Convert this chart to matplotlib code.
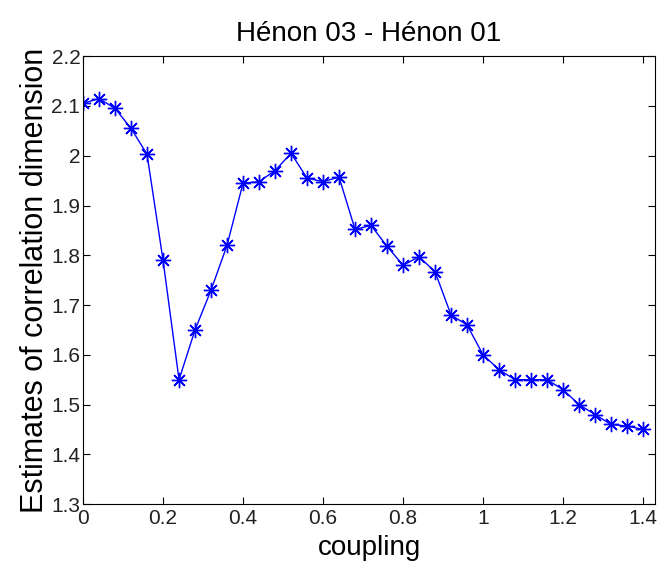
import matplotlib
matplotlib.use('Agg')
import matplotlib.pyplot as plt
import numpy as np

plt.rcParams['font.family'] = ['Liberation Sans', 'DejaVu Sans']

# coupling values and correlation dimension estimates
coupling = np.array([0.00, 0.04, 0.08, 0.12, 0.16, 0.20, 0.24, 0.28, 0.32, 0.36,
                     0.40, 0.44, 0.48, 0.52, 0.56, 0.60, 0.64, 0.68, 0.72, 0.76,
                     0.80, 0.84, 0.88, 0.92, 0.96, 1.00, 1.04, 1.08, 1.12, 1.16,
                     1.20, 1.24, 1.28, 1.32, 1.36, 1.40])
dimension = np.array([2.105, 2.115, 2.095, 2.055, 2.003, 1.790, 1.550, 1.650, 1.730, 1.820,
                      1.945, 1.948, 1.970, 2.005, 1.955, 1.948, 1.957, 1.852, 1.860, 1.818,
                      1.780, 1.797, 1.767, 1.680, 1.660, 1.600, 1.570, 1.550, 1.550, 1.550,
                      1.530, 1.500, 1.480, 1.460, 1.457, 1.450])

xticks = [0, 0.2, 0.4, 0.6, 0.8, 1, 1.2, 1.4]
xticklabels = ['0', '0.2', '0.4', '0.6', '0.8', '1', '1.2', '1.4']
yticks = [1.3, 1.4, 1.5, 1.6, 1.7, 1.8, 1.9, 2.0, 2.1, 2.2]
yticklabels = ['1.3', '1.4', '1.5', '1.6', '1.7', '1.8', '1.9', '2', '2.1', '2.2']

fig = plt.figure(figsize=(6.59, 5.62), dpi=100)
ax = fig.add_axes([0.126, 0.103, 0.868, 0.797])

# matlab style asterisk marker (+ and x together)
ax.plot(coupling, dimension, color='blue', linewidth=1, marker=(8, 2, 0),
        markersize=11, markeredgewidth=1)

ax.set_xlim(0, 1.43)
ax.set_ylim(1.3, 2.2)
ax.set_xticks(xticks)
ax.set_xticklabels(xticklabels)
ax.set_yticks(yticks)
ax.set_yticklabels(yticklabels)
ax.tick_params(direction='in', top=True, right=True, labelsize=15, length=5,
               labelcolor='#222222')
ax.tick_params(axis='y', pad=2)

ax.set_xlabel('coupling', fontsize=20, labelpad=5)
ax.set_ylabel('Estimates of correlation dimension', fontsize=22, labelpad=1)
ax.set_title('Hénon 03 - Hénon 01', fontsize=20, pad=11)

fig.savefig('out.png', dpi=100)
